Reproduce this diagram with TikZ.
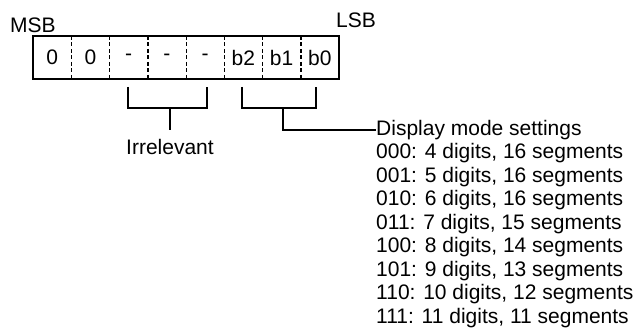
\documentclass[tikz,border=0pt]{standalone}
\usepackage{fontspec}
\setmainfont{Liberation Sans}
\usetikzlibrary{positioning}
\definecolor{LineBlack}{RGB}{0, 0, 0}

\begin{document}
\begin{tikzpicture}[
    x=1pt, y=-1pt,
    lbl/.style={inner sep=0pt, font=\fontsize{21}{23.5}\selectfont, text=LineBlack},
    bitcell/.style={inner sep=0pt, minimum width=38.25pt, minimum height=43pt, font=\fontsize{21}{23.5}\selectfont},
    frame/.style={draw=LineBlack, line width=1.8pt},
    divider/.style={draw=LineBlack, line width=1.1pt, dash pattern=on 4pt off 2.5pt},
    bracket/.style={draw=LineBlack, line width=1.4pt}
  ]
    \useasboundingbox (0,0) rectangle (634,334);

    % register cells, MSB first
    \foreach \val [count=\i] in {0,0,-,-,-,b2,b1,b0}
      \node[bitcell] (c\i) at ({33+38.25*(\i-0.5)}, 57.5) {\val};
    \draw[frame] (c1.north west) rectangle (c8.south east);
    \foreach \i in {1,...,7}
      \draw[divider] (c\i.north east) -- (c\i.south east);

    \node[lbl, anchor=base west] (msb) at (10,33) {MSB};
    \node[lbl, anchor=base west] (lsb) at (336,28) {LSB};

    % brackets under the bits
    \coordinate (irrL) at (128,87);
    \coordinate (irrR) at (207,87);
    \coordinate (dspL) at (242,87);
    \coordinate (dspR) at (316,87);
    \node[lbl, anchor=base] (irr) at (170,154) {Irrelevant};
    \node[lbl, anchor=west] (disp) at (376,130) {Display mode settings};

    \draw[bracket] (irrL) |- ++(79,21) -- (irrR);
    \draw[bracket] (170,108) -- (170,130);
    \draw[bracket] (dspL) |- ++(74,21) -- (dspR);
    \draw[bracket] (283,108) |- (disp.west);

    % mode list
    \foreach \code/\txt [count=\i] in {000/{4 digits, 16 segments},001/{5 digits, 16 segments},
        010/{6 digits, 16 segments},011/{7 digits, 15 segments},100/{8 digits, 14 segments},
        101/{9 digits, 13 segments},110/{10 digits, 12 segments},111/{11 digits, 11 segments}}
      \node[lbl, anchor=base west] (m\i) at (376,{135.3+23.5*\i}) {\code: \txt};
  \end{tikzpicture}
\end{document}
